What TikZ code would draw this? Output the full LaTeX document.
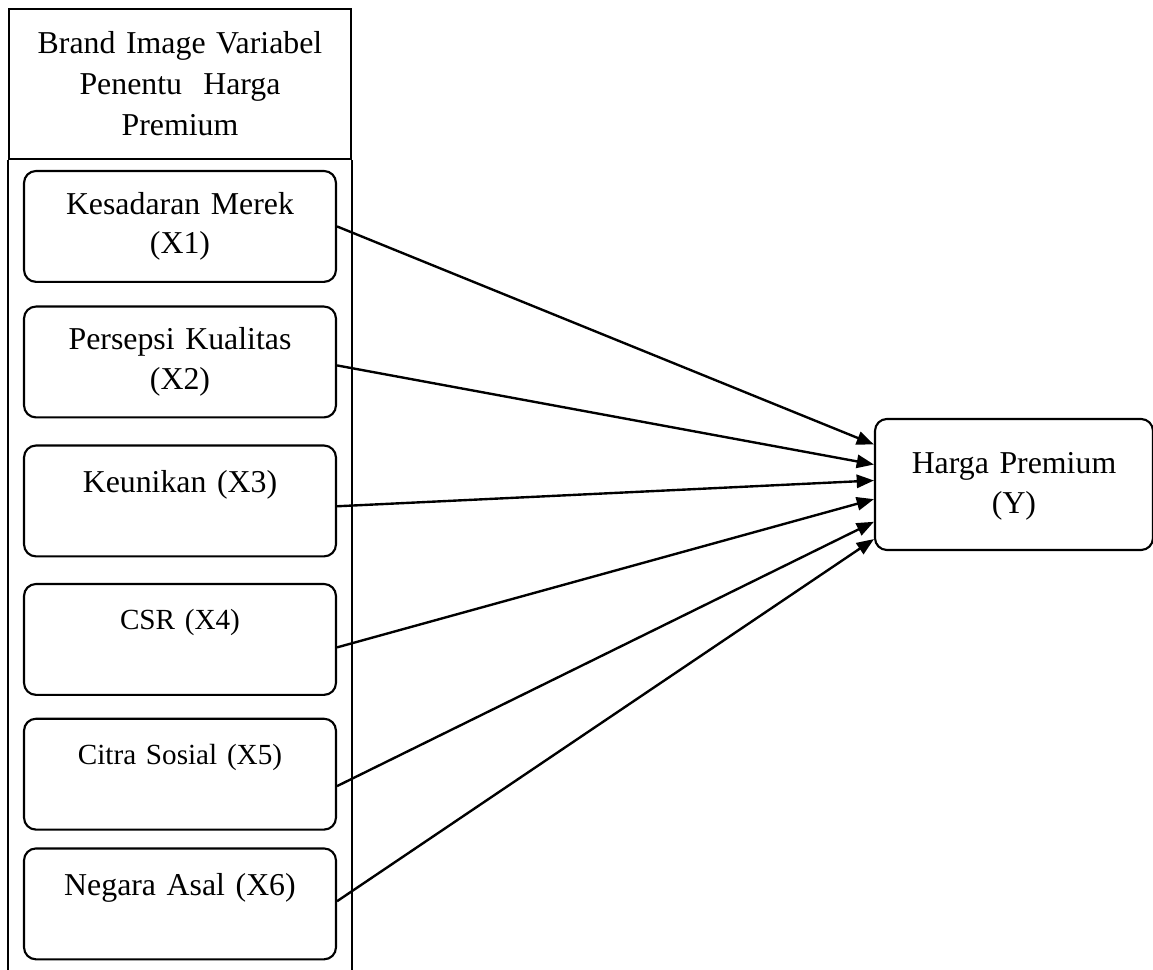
\documentclass[tikz,border=0pt]{standalone}
\usepackage{fontspec}
\setmainfont{Liberation Serif}
\usetikzlibrary{arrows.meta, positioning, calc}

\begin{document}
\begin{tikzpicture}[
    x=0.377pt, y=-0.377pt,
    font=\fontsize{12}{15}\selectfont,
    node distance=9pt,
    line width=0.8pt,
    header/.style={
        draw, rectangle, align=center,
        text width=124pt, minimum width=128.9pt, minimum height=56.6pt,
        inner sep=2pt, font=\fontsize{12}{15.5}\selectfont
    },
    var/.style={
        draw, rounded corners=4.5pt, align=center,
        text width=112pt, minimum width=117.6pt, minimum height=41.8pt,
        inner sep=2pt
    },
    smallvar/.style={
        var, font=\fontsize{11}{15}\selectfont
    },
    target/.style={
        draw, rounded corners=4.5pt, align=center,
        text width=100pt, minimum width=104.8pt, minimum height=49.4pt,
        inner sep=2pt, text depth=16pt
    },
    arrow/.style={
        -{Triangle[length=6.5pt, width=5pt]}, line width=0.9pt
    }
]
\useasboundingbox (0,0) rectangle (1153,970);

% --- left column: header and the six brand image variables ---
\node[header] (head) at (180,84) {Brand Image Variabel\\Penentu~ Harga\\Premium};
\draw (head.south west) -- ++(0,830);
\draw (head.south east) -- ++(0,830);

\node[var, below=3.7pt of head]   (x1) {Kesadaran Merek\\(X1)};
\node[var, below=8.5pt of x1]     (x2) {Persepsi Kualitas\\(X2)};
\node[var, below=9.8pt of x2]     (x3) {Keunikan (X3)\\~};
\node[smallvar, below=9.6pt of x3] (x4) {CSR (X4)\\~};
\node[smallvar, below=8.2pt of x4] (x5) {Citra Sosial (X5)\\~};
\node[var, below=6.3pt of x5]     (x6) {Negara Asal (X6)\\~};

% --- dependent variable ---
\node[target] (hp) at (1014,484.5) {Harga Premium\\(Y)};

% --- each variable points to Y ---
\draw[arrow] (x1.east) -- ($(hp.north west)!0.20!(hp.south west)$);
\draw[arrow] ([yshift=-1.3pt]x2.east) -- ($(hp.north west)!0.35!(hp.south west)$);
\draw[arrow] ([yshift=-2pt]x3.east) -- ($(hp.north west)!0.47!(hp.south west)$);
\draw[arrow] ([yshift=-3pt]x4.east) -- ($(hp.north west)!0.61!(hp.south west)$);
\draw[arrow] ([yshift=-4.5pt]x5.east) -- ($(hp.north west)!0.78!(hp.south west)$);
\draw[arrow] ([yshift=1pt]x6.east) -- ($(hp.north west)!0.91!(hp.south west)$);

\end{tikzpicture}
\end{document}
